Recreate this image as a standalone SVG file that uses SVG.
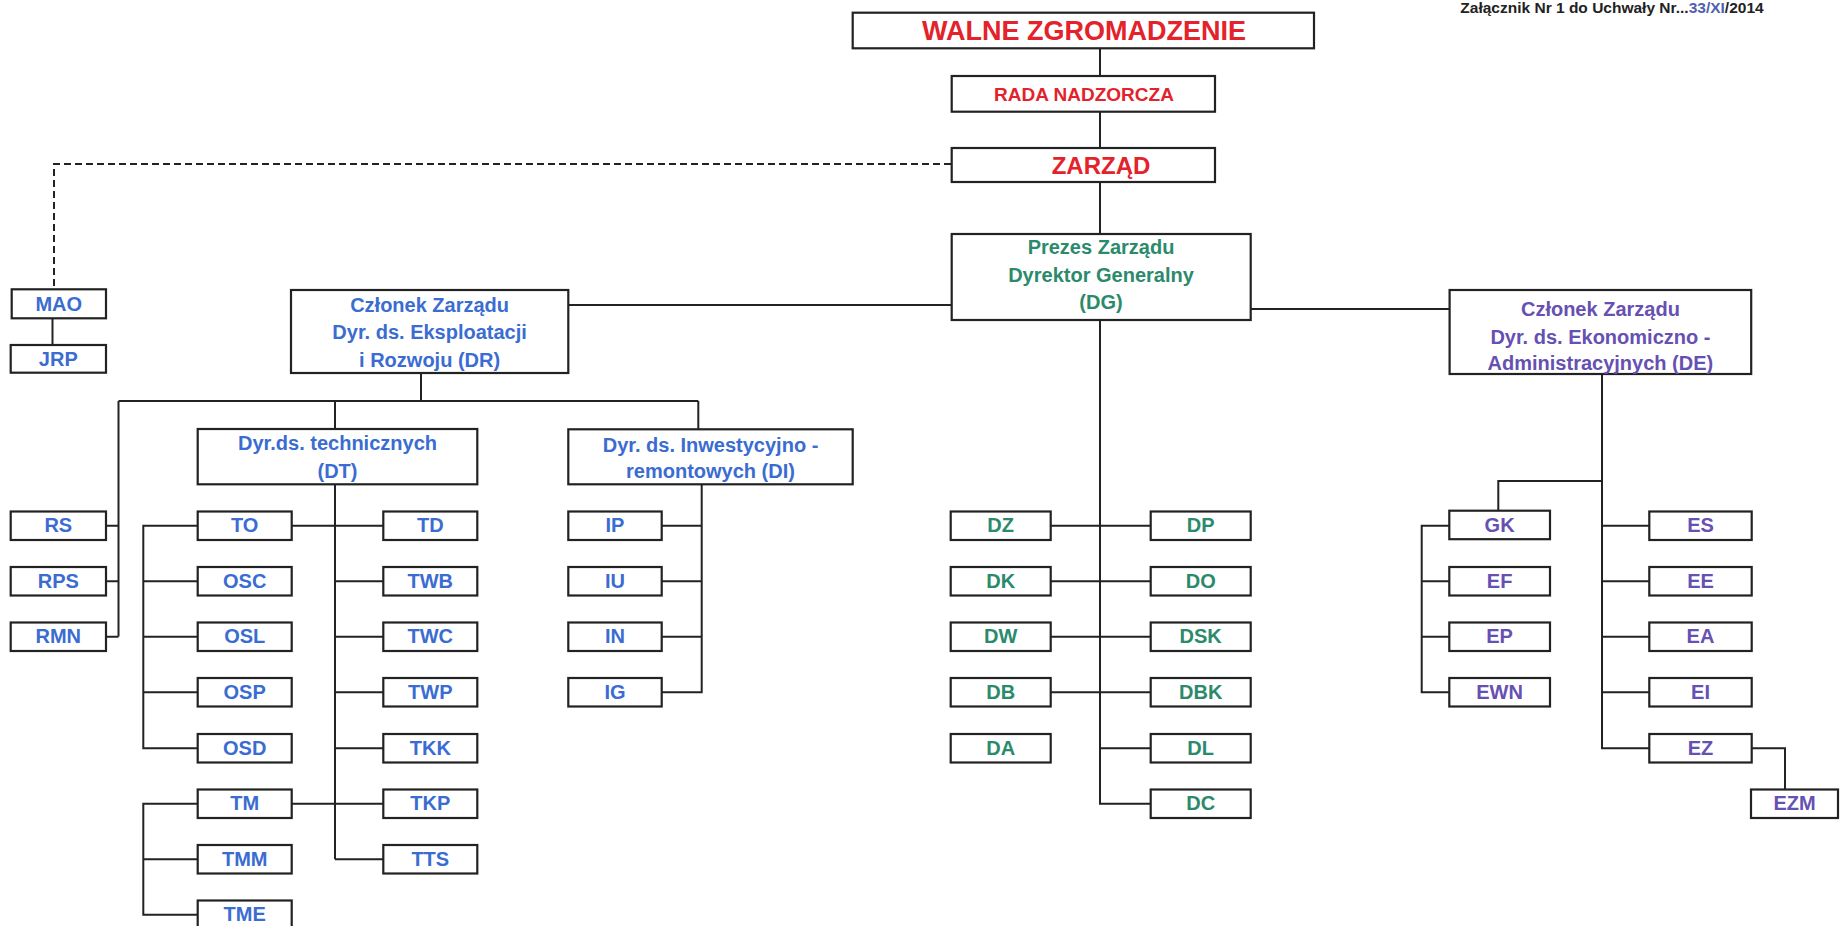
<svg xmlns="http://www.w3.org/2000/svg" width="1841" height="926" viewBox="0 0 1841 926">
<style>
text{font-family:"Liberation Sans",Arial,sans-serif;font-weight:bold;text-anchor:middle}
rect{fill:#fff;stroke:#222;stroke-width:2.2}
.c path{fill:none;stroke:#222;stroke-width:2}
.red{fill:#e3222c}
.b{fill:#3a6cd2;font-size:20px}
.g{fill:#2b8a6b;font-size:20px}
.p{fill:#6650b2;font-size:20px}
</style>
<rect x="0" y="0" width="1841" height="926" style="fill:#fff;stroke:none"/>
<text x="1612" y="13" style="font-size:15.5px;fill:#222">Załącznik Nr 1 do Uchwały Nr...<tspan style="fill:#5060b0">33/XI</tspan>/2014</text>

<g class="c">
<path d="M1100 48.3V76M1100 111.7V148M1100 182V234"/>
<path d="M951 164H54V289.3" stroke-dasharray="7,4"/>
<path d="M52.5 318.3V345"/>
<path d="M568.3 305H951.7M1250.7 309H1449.6"/>
<path d="M421 373V401M118.5 401H698.3M335 401V429M698.3 401V429.3M118.5 401V636.5"/>
<path d="M106 525.8H118.5M106 581.3H118.5M106 636.8H118.5"/>
<path d="M335 484.3V859.2M291.7 525.8H383.3M291.7 803.8H383.3"/>
<path d="M335 581.3H383.3M335 636.8H383.3M335 692.3H383.3M335 748.3H383.3M335 859.2H383.3"/>
<path d="M197.7 525.8H143.3V748.3H197.7M143.3 581.3H197.7M143.3 636.8H197.7M143.3 692.3H197.7"/>
<path d="M197.7 803.8H143.3V914.8H197.7M143.3 859.2H197.7"/>
<path d="M701.7 484.3V692.3H661.7M661.7 525.8H701.7M661.7 581.3H701.7M661.7 636.8H701.7"/>
<path d="M1100 320V803.8H1150.7M1050.7 525.8H1150.7M1050.7 581.3H1150.7M1050.7 636.8H1150.7M1050.7 692.3H1150.7M1100 748.3H1150.7"/>
<path d="M1602 374V748.3H1649.3M1602 525.8H1649.3M1602 581.3H1649.3M1602 636.8H1649.3M1602 692.3H1649.3"/>
<path d="M1602 481H1498.3V510.7"/>
<path d="M1449.3 525.8H1421.7V692.3H1449.3M1421.7 581.3H1449.3M1421.7 636.8H1449.3"/>
<path d="M1751.7 748.3H1785V789.5"/>
</g>

<g id="walne"><rect x="852.7" y="12.7" width="461.3" height="35.6"/><text x="1084" y="40.2" class="red" style="font-size:27px">WALNE ZGROMADZENIE</text></g>
<g id="rada"><rect x="951.7" y="76" width="263.3" height="35.7"/><text x="1084" y="100.7" class="red" style="font-size:19px">RADA NADZORCZA</text></g>
<g id="zarzad"><rect x="951.7" y="148" width="263.3" height="34"/><text x="1101" y="173.6" class="red" style="font-size:24px">ZARZĄD</text></g>

<g id="dg"><rect x="951.7" y="234" width="299" height="86"/><text x="1101" y="254" class="g">Prezes Zarządu</text><text x="1101" y="281.5" class="g">Dyrektor Generalny</text><text x="1101" y="309" class="g">(DG)</text></g>
<g id="dr"><rect x="291" y="290" width="277.3" height="83"/><text x="429.6" y="311.7" class="b">Członek Zarządu</text><text x="429.6" y="339" class="b">Dyr. ds. Eksploatacji</text><text x="429.6" y="366.5" class="b">i Rozwoju (DR)</text></g>
<g id="de"><rect x="1449.6" y="290" width="301.6" height="84"/><text x="1600.4" y="316" class="p">Członek Zarządu</text><text x="1600.4" y="343.5" class="p">Dyr. ds. Ekonomiczno -</text><text x="1600.4" y="369.5" class="p">Administracyjnych (DE)</text></g>
<g id="dt"><rect x="197.7" y="429" width="279.6" height="55.3"/><text x="337.5" y="450" class="b">Dyr.ds. technicznych</text><text x="337.5" y="478" class="b">(DT)</text></g>
<g id="di"><rect x="568.3" y="429.3" width="284.4" height="55"/><text x="710.5" y="451.5" class="b">Dyr. ds. Inwestycyjno -</text><text x="710.5" y="478.3" class="b">remontowych (DI)</text></g>

<g id="mao"><rect x="11.7" y="289.3" width="94.3" height="29"/><text x="58.8" y="310.5" class="b">MAO</text></g>
<g id="jrp"><rect x="10.7" y="345" width="95.3" height="27.7"/><text x="58.3" y="365.5" class="b">JRP</text></g>

<g id="rs"><rect x="10.7" y="511.5" width="95.3" height="28.5"/><text x="58.3" y="532" class="b">RS</text></g>
<g id="rps"><rect x="10.7" y="567" width="95.3" height="28.5"/><text x="58.3" y="587.5" class="b">RPS</text></g>
<g id="rmn"><rect x="10.7" y="622.5" width="95.3" height="28.5"/><text x="58.3" y="643" class="b">RMN</text></g>

<g id="to"><rect x="197.7" y="511.5" width="94" height="28.5"/><text x="244.7" y="532" class="b">TO</text></g>
<g id="osc"><rect x="197.7" y="567" width="94" height="28.5"/><text x="244.7" y="587.5" class="b">OSC</text></g>
<g id="osl"><rect x="197.7" y="622.5" width="94" height="28.5"/><text x="244.7" y="643" class="b">OSL</text></g>
<g id="osp"><rect x="197.7" y="678" width="94" height="28.5"/><text x="244.7" y="698.5" class="b">OSP</text></g>
<g id="osd"><rect x="197.7" y="734" width="94" height="28.5"/><text x="244.7" y="754.5" class="b">OSD</text></g>
<g id="tm"><rect x="197.7" y="789.5" width="94" height="28.5"/><text x="244.7" y="810" class="b">TM</text></g>
<g id="tmm"><rect x="197.7" y="845" width="94" height="28.5"/><text x="244.7" y="865.5" class="b">TMM</text></g>
<g id="tme"><rect x="197.7" y="900.5" width="94" height="28.5"/><text x="244.7" y="921" class="b">TME</text></g>

<g id="td"><rect x="383.3" y="511.5" width="94" height="28.5"/><text x="430.3" y="532" class="b">TD</text></g>
<g id="twb"><rect x="383.3" y="567" width="94" height="28.5"/><text x="430.3" y="587.5" class="b">TWB</text></g>
<g id="twc"><rect x="383.3" y="622.5" width="94" height="28.5"/><text x="430.3" y="643" class="b">TWC</text></g>
<g id="twp"><rect x="383.3" y="678" width="94" height="28.5"/><text x="430.3" y="698.5" class="b">TWP</text></g>
<g id="tkk"><rect x="383.3" y="734" width="94" height="28.5"/><text x="430.3" y="754.5" class="b">TKK</text></g>
<g id="tkp"><rect x="383.3" y="789.5" width="94" height="28.5"/><text x="430.3" y="810" class="b">TKP</text></g>
<g id="tts"><rect x="383.3" y="845" width="94" height="28.5"/><text x="430.3" y="865.5" class="b">TTS</text></g>

<g id="ip"><rect x="568.3" y="511.5" width="93.4" height="28.5"/><text x="615" y="532" class="b">IP</text></g>
<g id="iu"><rect x="568.3" y="567" width="93.4" height="28.5"/><text x="615" y="587.5" class="b">IU</text></g>
<g id="in"><rect x="568.3" y="622.5" width="93.4" height="28.5"/><text x="615" y="643" class="b">IN</text></g>
<g id="ig"><rect x="568.3" y="678" width="93.4" height="28.5"/><text x="615" y="698.5" class="b">IG</text></g>

<g id="dz"><rect x="950.7" y="511.5" width="100" height="28.5"/><text x="1000.7" y="532" class="g">DZ</text></g>
<g id="dk"><rect x="950.7" y="567" width="100" height="28.5"/><text x="1000.7" y="587.5" class="g">DK</text></g>
<g id="dw"><rect x="950.7" y="622.5" width="100" height="28.5"/><text x="1000.7" y="643" class="g">DW</text></g>
<g id="db"><rect x="950.7" y="678" width="100" height="28.5"/><text x="1000.7" y="698.5" class="g">DB</text></g>
<g id="da"><rect x="950.7" y="734" width="100" height="28.5"/><text x="1000.7" y="754.5" class="g">DA</text></g>

<g id="dp"><rect x="1150.7" y="511.5" width="100" height="28.5"/><text x="1200.7" y="532" class="g">DP</text></g>
<g id="do"><rect x="1150.7" y="567" width="100" height="28.5"/><text x="1200.7" y="587.5" class="g">DO</text></g>
<g id="dsk"><rect x="1150.7" y="622.5" width="100" height="28.5"/><text x="1200.7" y="643" class="g">DSK</text></g>
<g id="dbk"><rect x="1150.7" y="678" width="100" height="28.5"/><text x="1200.7" y="698.5" class="g">DBK</text></g>
<g id="dl"><rect x="1150.7" y="734" width="100" height="28.5"/><text x="1200.7" y="754.5" class="g">DL</text></g>
<g id="dc"><rect x="1150.7" y="789.5" width="100" height="28.5"/><text x="1200.7" y="810" class="g">DC</text></g>

<g id="gk"><rect x="1449.3" y="510.7" width="100.7" height="28.5"/><text x="1499.6" y="531.5" class="p">GK</text></g>
<g id="ef"><rect x="1449.3" y="567" width="100.7" height="28.5"/><text x="1499.6" y="587.5" class="p">EF</text></g>
<g id="ep"><rect x="1449.3" y="622.5" width="100.7" height="28.5"/><text x="1499.6" y="643" class="p">EP</text></g>
<g id="ewn"><rect x="1449.3" y="678" width="100.7" height="28.5"/><text x="1499.6" y="698.5" class="p">EWN</text></g>

<g id="es"><rect x="1649.3" y="511.5" width="102.4" height="28.5"/><text x="1700.5" y="532" class="p">ES</text></g>
<g id="ee"><rect x="1649.3" y="567" width="102.4" height="28.5"/><text x="1700.5" y="587.5" class="p">EE</text></g>
<g id="ea"><rect x="1649.3" y="622.5" width="102.4" height="28.5"/><text x="1700.5" y="643" class="p">EA</text></g>
<g id="ei"><rect x="1649.3" y="678" width="102.4" height="28.5"/><text x="1700.5" y="698.5" class="p">EI</text></g>
<g id="ez"><rect x="1649.3" y="734" width="102.4" height="28.5"/><text x="1700.5" y="754.5" class="p">EZ</text></g>
<g id="ezm"><rect x="1751" y="789.5" width="87" height="28.5"/><text x="1794.5" y="810" class="p">EZM</text></g>
</svg>
